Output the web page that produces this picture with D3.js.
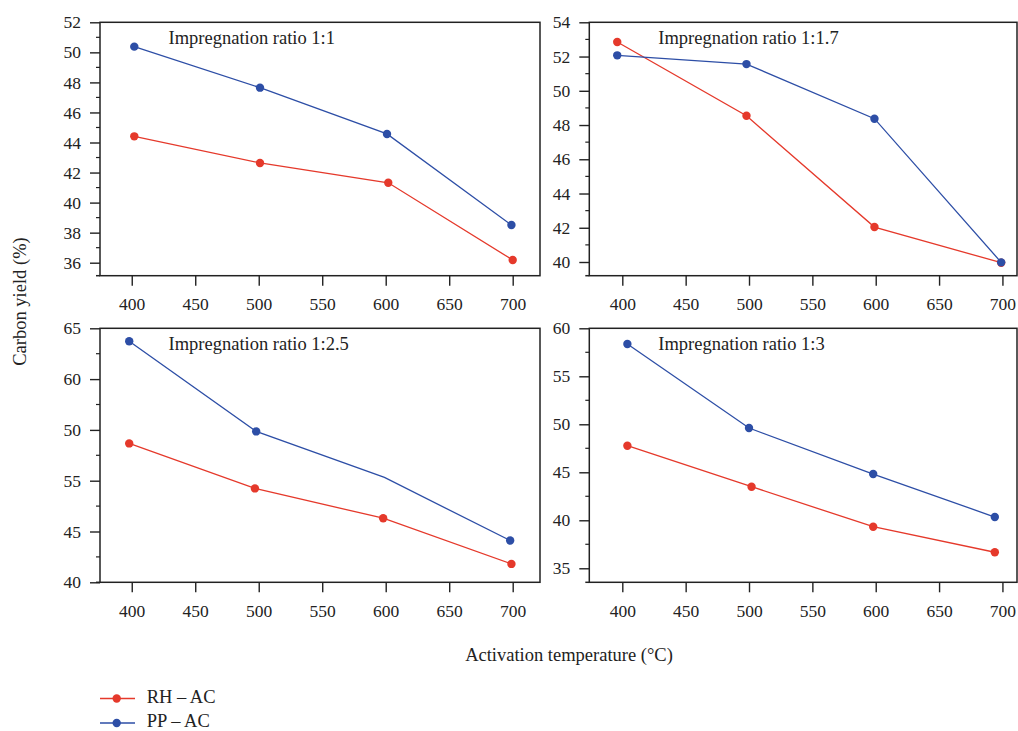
<!DOCTYPE html>
<html>
<head>
<meta charset="utf-8">
<script src="https://cdn.jsdelivr.net/npm/d3@7"></script>
<style>
  html, body { margin: 0; padding: 0; background: #fff; }
  svg { display: block; }
  svg text { font-family: "Liberation Serif", "DejaVu Serif", serif; fill: #222; }
</style>
</head>
<body>
<svg id="chart" width="1018" height="731"></svg>
<script>
// Carbon yield versus activation temperature, four impregnation ratios.
const SERIF = "Liberation Serif, DejaVu Serif, serif";

const panelTitles = [
  "Impregnation ratio 1:1",
  "Impregnation ratio 1:1.7",
  "Impregnation ratio 1:2.5",
  "Impregnation ratio 1:3"
];
const seriesNames = ["RH – AC", "PP – AC"];

// RH – AC (rice husk activated carbon)
const rhTemps = [
  [402, 501, 602, 700],
  [396, 498, 599, 699],
  [398, 497, 598, 699],
  [404, 502, 598, 694]
];
const rhYield = [
  [44.41, 42.64, 41.32, 36.18],
  [52.85, 48.54, 42.04, 39.96],
  [53.67, 49.24, 46.31, 41.81],
  [47.77, 43.50, 39.33, 36.67]
];

// PP – AC
const ppTemps = [
  [402, 501, 601, 699],
  [396, 498, 599, 699],
  [398, 498, 599, 698],
  [404, 500, 598, 694]
];
const ppYield = [
  [50.38, 47.65, 44.57, 38.51],
  [52.07, 51.56, 48.37, 39.98],
  [63.72, 54.85, 50.32, 44.11],
  [58.36, 49.61, 44.82, 40.34]
];
// the 1:2.5 PP – AC line has no marker at 600 °C
const ppMarked = [
  [1, 1, 1, 1],
  [1, 1, 1, 1],
  [1, 1, 0, 1],
  [1, 1, 1, 1]
];

const xTicks = [400, 450, 500, 550, 600, 650, 700];
const yTickValues = [
  [36, 38, 40, 42, 44, 46, 48, 50, 52],
  [40, 42, 44, 46, 48, 50, 52, 54],
  [40, 45, 50, 55, 60, 65],
  [35, 40, 45, 50, 55, 60]
];
const yTickLabels = [
  ["36", "38", "40", "42", "44", "46", "48", "50", "52"],
  ["40", "42", "44", "46", "48", "50", "52", "54"],
  ["40", "45", "55", "50", "60", "65"],
  ["35", "40", "45", "50", "55", "60"]
];
const yMinorStep = [1, 1, 2.5, 2.5];
const yDomains = [[35.135, 52], [39.2, 54], [40, 65], [33.54, 60]];
const xDomains = [[375, 721.5], [373.95, 711.5], [375, 721.5], [373.95, 711.5]];

const RED = "#e5392b";
const BLUE = "#2d4ea6";
const INK = "#222";

const svg = d3.select("#chart");

// panel frames: columns and rows in pixels
const colX = [[100, 540], [589.3, 1017]];
const rowY = [[22.3, 275.7], [328.3, 582.3]];

panelTitles.forEach((title, i) => {
  const col = i % 2, row = Math.floor(i / 2);
  const [x0, x1] = colX[col];
  const [y0, y1] = rowY[row];

  const x = d3.scaleLinear().domain(xDomains[i]).range([x0, x1]);
  const y = d3.scaleLinear().domain(yDomains[i]).range([y1, y0]);

  const g = svg.append("g");

  // frame
  g.append("rect")
    .attr("x", x0).attr("y", y0)
    .attr("width", x1 - x0).attr("height", y1 - y0)
    .attr("fill", "none").attr("stroke", INK).attr("stroke-width", 1.5);
  g.append("line")
    .attr("x1", x0 - 4).attr("x2", x0)
    .attr("y1", y1).attr("y2", y1)
    .attr("stroke", INK).attr("stroke-width", 1.5);

  // x axis
  const xa = g.append("g")
    .attr("transform", `translate(0,${y1})`)
    .call(d3.axisBottom(x).tickValues(xTicks).tickSize(10).tickSizeOuter(0).tickPadding(12))
    .attr("font-family", SERIF)
    .attr("font-size", 17.5);
  xa.select(".domain").remove();
  xa.selectAll(".tick line").attr("stroke", INK).attr("stroke-width", 1.4);
  xa.selectAll(".tick text").attr("fill", INK);

  // y axis, major ticks
  const labels = yTickLabels[i];
  const ya = g.append("g")
    .attr("transform", `translate(${x0},0)`)
    .call(d3.axisLeft(y).tickValues(yTickValues[i]).tickSize(10).tickSizeOuter(0).tickPadding(9)
      .tickFormat((d, k) => labels[k]))
    .attr("font-family", SERIF)
    .attr("font-size", 17.5);
  ya.select(".domain").remove();
  ya.selectAll(".tick line").attr("stroke", INK).attr("stroke-width", 1.4);
  ya.selectAll(".tick text").attr("fill", INK);

  // y axis, minor ticks
  const [dmin, dmax] = yDomains[i];
  const step = yMinorStep[i];
  const minor = [];
  const first = yTickValues[i][0];
  for (let v = first - step; v >= dmin; v -= 2 * step) minor.push(v);
  yTickValues[i].forEach(v => { if (v + step <= dmax) minor.push(v + step); });
  g.selectAll(".minor").data(minor).join("line")
    .attr("x1", x0 - 4).attr("x2", x0)
    .attr("y1", d => y(d)).attr("y2", d => y(d))
    .attr("stroke", INK).attr("stroke-width", 1.2);

  // series
  const line = d3.line().x(d => x(d.t)).y(d => y(d.v));
  const rh = rhTemps[i].map((t, k) => ({ t, v: rhYield[i][k], m: 1 }));
  const pp = ppTemps[i].map((t, k) => ({ t, v: ppYield[i][k], m: ppMarked[i][k] }));

  [[rh, RED], [pp, BLUE]].forEach(([pts, color]) => {
    g.append("path").datum(pts)
      .attr("d", line).attr("fill", "none")
      .attr("stroke", color).attr("stroke-width", 1.3);
    g.selectAll(null).data(pts.filter(d => d.m)).join("circle")
      .attr("cx", d => x(d.t)).attr("cy", d => y(d.v)).attr("r", 4.2)
      .attr("fill", color);
  });

  // panel title
  g.append("text")
    .attr("x", col === 0 ? 168.5 : 658.3)
    .attr("y", y0 + 21.7)
    .attr("font-size", 18.5)
    .text(title);
});

// axis titles
svg.append("text")
  .attr("transform", "translate(25.5,301.5) rotate(-90)")
  .attr("text-anchor", "middle")
  .attr("font-size", 18.5)
  .text("Carbon yield (%)");

svg.append("text")
  .attr("x", 569).attr("y", 661)
  .attr("text-anchor", "middle")
  .attr("font-size", 18.5)
  .text("Activation temperature (°C)");

// legend
const legend = svg.append("g");
[RED, BLUE].forEach((color, k) => {
  const cy = 698.5 + k * 24.5;
  legend.append("line")
    .attr("x1", 100).attr("x2", 135).attr("y1", cy).attr("y2", cy)
    .attr("stroke", color).attr("stroke-width", 1.3);
  legend.append("circle")
    .attr("cx", 116.7).attr("cy", cy).attr("r", 4.2).attr("fill", color);
  legend.append("text")
    .attr("x", 146.7).attr("y", cy + 4)
    .attr("font-size", 18.5)
    .text(seriesNames[k]);
});
</script>
</body>
</html>
